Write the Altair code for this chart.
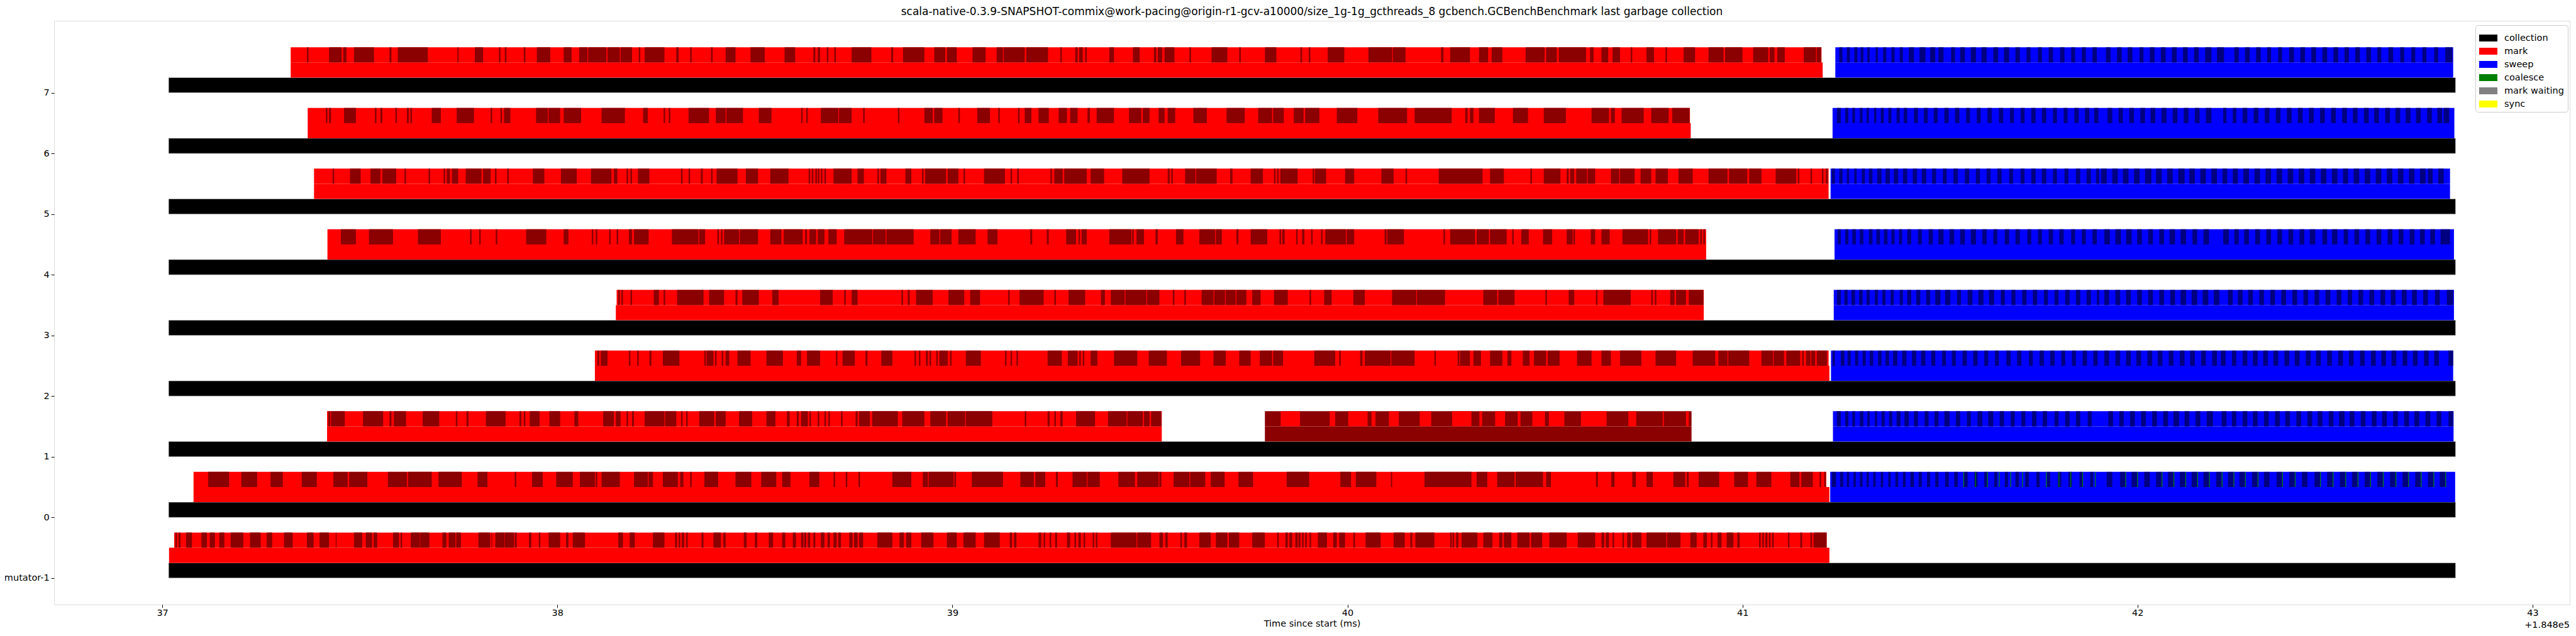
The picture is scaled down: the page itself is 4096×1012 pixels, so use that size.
import altair as alt
import pandas as pd

# ---------------- data (times in ms, offset +1.848e5) ----------------
ROWS = [-1, 0, 1, 2, 3, 4, 5, 6, 7]
ROW_LABELS = ["mutator-1", "0", "1", "2", "3", "4", "5", "6", "7"]

collection_start = [37.016, 37.016, 37.016, 37.016, 37.016, 37.016, 37.016, 37.016, 37.016]
collection_end = [42.805, 42.805, 42.805, 42.805, 42.805, 42.805, 42.805, 42.805, 42.805]

mark_start = [37.017, 37.079, 37.417, 38.095, 38.148, 37.418, 37.384, 37.368, 37.325]
mark_end = [41.220, 41.220, 39.530, 41.220, 40.902, 40.908, 41.218, 40.869, 41.203]
mark_top_start = [37.030, 37.079, 37.417, 38.095, 38.150, 37.418, 37.384, 37.368, 37.325]
mark_top_end = [41.213, 41.212, 39.530, 41.218, 40.902, 40.908, 41.218, 40.867, 41.200]

sweep_start = [None, 41.222, 41.229, 41.224, 41.231, 41.233, 41.223, 41.228, 41.235]
sweep_end = [None, 42.804, 42.800, 42.799, 42.801, 42.801, 42.791, 42.802, 42.799]

# row 1: second (dark red) mark span and the red batches inside it
row1_mark2 = [39.791, 40.871]
row1_mark2_light = [39.831, 39.880, 39.955, 39.969, 40.002, 40.051, 40.061, 40.071, 40.105, 40.130,
                    40.183, 40.212, 40.265, 40.314, 40.334, 40.341, 40.374, 40.399, 40.431, 40.438,
                    40.468, 40.500, 40.510, 40.549, 40.591, 40.656, 40.711, 40.731, 40.798, 40.801,
                    40.857, 40.864]

# dark mark batches (start, end, start, end, ...)
mark_dark_m1 = [37.033, 37.037, 37.041, 37.046, 37.060, 37.075, 37.099, 37.113, 37.120, 37.133,
                37.144, 37.157, 37.173, 37.205, 37.222, 37.249, 37.264, 37.278, 37.308, 37.330,
                37.366, 37.383, 37.398, 37.422, 37.439, 37.441, 37.485, 37.506, 37.515, 37.531,
                37.535, 37.544, 37.584, 37.599, 37.603, 37.607, 37.629, 37.652, 37.653, 37.676,
                37.709, 37.719, 37.725, 37.742, 37.744, 37.756, 37.800, 37.830, 37.833, 37.835,
                37.843, 37.866, 37.867, 37.890, 37.892, 37.897, 37.928, 37.934, 37.953, 37.957,
                37.978, 38.007, 38.022, 38.028, 38.039, 38.070, 38.154, 38.166, 38.183, 38.196,
                38.242, 38.271, 38.298, 38.303, 38.307, 38.311, 38.315, 38.321, 38.326, 38.330,
                38.365, 38.370, 38.395, 38.414, 38.420, 38.426, 38.472, 38.479, 38.500, 38.506,
                38.535, 38.546, 38.569, 38.577, 38.596, 38.604, 38.617, 38.623, 38.625, 38.630,
                38.634, 38.640, 38.648, 38.653, 38.667, 38.676, 38.684, 38.690, 38.699, 38.707,
                38.711, 38.718, 38.739, 38.747, 38.751, 38.760, 38.764, 38.774, 38.810, 38.848,
                38.866, 38.877, 38.883, 38.896, 38.921, 38.952, 38.986, 39.011, 39.028, 39.059,
                39.080, 39.120, 39.145, 39.151, 39.156, 39.162, 39.218, 39.225, 39.231, 39.235,
                39.246, 39.250, 39.260, 39.265, 39.290, 39.298, 39.309, 39.313, 39.319, 39.325,
                39.332, 39.336, 39.355, 39.359, 39.363, 39.367, 39.401, 39.466, 39.468, 39.503,
                39.524, 39.533, 39.539, 39.545, 39.577, 39.581, 39.587, 39.594, 39.625, 39.654,
                39.667, 39.696, 39.700, 39.726, 39.759, 39.791, 39.822, 39.826, 39.843, 39.849,
                39.853, 39.860, 39.868, 39.874, 39.876, 39.881, 39.885, 39.889, 39.893, 39.897,
                39.904, 39.908, 39.925, 39.948, 39.964, 39.973, 39.979, 39.994, 40.015, 40.019,
                40.046, 40.084, 40.117, 40.145, 40.159, 40.164, 40.172, 40.220, 40.260, 40.264,
                40.266, 40.270, 40.275, 40.281, 40.289, 40.329, 40.344, 40.367, 40.384, 40.392,
                40.396, 40.415, 40.430, 40.461, 40.465, 40.493, 40.511, 40.555, 40.583, 40.627,
                40.643, 40.650, 40.654, 40.662, 40.671, 40.675, 40.696, 40.700, 40.708, 40.717,
                40.721, 40.744, 40.757, 40.807, 40.809, 40.843, 40.868, 40.884, 40.901, 40.910,
                40.920, 40.924, 40.937, 40.947, 40.960, 40.977, 40.987, 40.993, 41.042, 41.046,
                41.050, 41.054, 41.058, 41.063, 41.067, 41.071, 41.075, 41.079, 41.115, 41.119,
                41.146, 41.151, 41.172, 41.176, 41.180, 41.213]

mark_dark_0 = [37.116, 37.169, 37.200, 37.240, 37.274, 37.305, 37.353, 37.391, 37.433, 37.469,
               37.473, 37.519, 37.571, 37.619, 37.622, 37.682, 37.699, 37.758, 37.798, 37.823,
               37.892, 37.896, 37.936, 37.963, 37.997, 38.039, 38.057, 38.095, 38.097, 38.101,
               38.112, 38.158, 38.194, 38.229, 38.231, 38.242, 38.267, 38.305, 38.311, 38.319,
               38.336, 38.340, 38.372, 38.407, 38.451, 38.491, 38.516, 38.554, 38.569, 38.590,
               38.638, 38.663, 38.699, 38.703, 38.730, 38.734, 38.762, 38.766, 38.848, 38.896,
               38.925, 38.938, 38.940, 39.003, 39.005, 39.009, 39.049, 39.128, 39.172, 39.206,
               39.210, 39.235, 39.262, 39.267, 39.304, 39.340, 39.342, 39.373, 39.420, 39.462,
               39.468, 39.522, 39.524, 39.529, 39.560, 39.600, 39.602, 39.640, 39.654, 39.689,
               39.724, 39.761, 39.846, 39.903, 39.982, 40.009, 40.021, 40.073, 40.110, 40.113,
               40.195, 40.314, 40.327, 40.354, 40.379, 40.423, 40.426, 40.495, 40.503, 40.515,
               40.629, 40.634, 40.668, 40.676, 40.721, 40.730, 40.757, 40.773, 40.825, 40.855,
               40.859, 40.864, 40.889, 40.941, 40.979, 41.014, 41.035, 41.073, 41.121, 41.144,
               41.149, 41.178, 41.195, 41.199, 41.207, 41.211]

mark_dark_1 = [37.420, 37.425, 37.427, 37.462, 37.508, 37.559, 37.575, 37.580, 37.586, 37.617,
               37.659, 37.701, 37.743, 37.747, 37.770, 37.775, 37.819, 37.869, 37.904, 37.909,
               37.915, 37.919, 37.930, 37.955, 37.980, 38.007, 38.043, 38.053, 38.116, 38.143,
               38.148, 38.160, 38.175, 38.179, 38.189, 38.194, 38.221, 38.271, 38.273, 38.301,
               38.313, 38.317, 38.326, 38.330, 38.359, 38.397, 38.401, 38.426, 38.460, 38.493,
               38.529, 38.552, 38.581, 38.588, 38.606, 38.611, 38.617, 38.634, 38.638, 38.642,
               38.659, 38.663, 38.676, 38.680, 38.686, 38.690, 38.718, 38.722, 38.755, 38.760,
               38.764, 38.791, 38.797, 38.862, 38.873, 38.929, 38.944, 38.984, 38.988, 39.032,
               39.034, 39.101, 39.183, 39.187, 39.241, 39.246, 39.258, 39.262, 39.273, 39.279,
               39.313, 39.361, 39.394, 39.441, 39.443, 39.482, 39.485, 39.499, 39.503, 39.529]

mark_dark_2 = [38.101, 38.106, 38.110, 38.127, 38.181, 38.185, 38.202, 38.206, 38.233, 38.238,
               38.267, 38.309, 38.372, 38.376, 38.378, 38.395, 38.399, 38.403, 38.416, 38.420,
               38.426, 38.435, 38.456, 38.489, 38.529, 38.571, 38.606, 38.617, 38.632, 38.665,
               38.705, 38.709, 38.722, 38.753, 38.780, 38.785, 38.820, 38.848, 38.904, 38.908,
               38.915, 38.919, 38.933, 38.938, 38.942, 38.946, 38.959, 38.963, 38.967, 38.988,
               38.994, 38.998, 39.034, 39.072, 39.133, 39.137, 39.147, 39.151, 39.162, 39.166,
               39.241, 39.277, 39.292, 39.317, 39.321, 39.325, 39.330, 39.334, 39.350, 39.367,
               39.409, 39.468, 39.497, 39.543, 39.579, 39.627, 39.661, 39.692, 39.726, 39.755,
               39.778, 39.809, 39.812, 39.837, 39.916, 39.969, 39.979, 39.983, 40.032, 40.038,
               40.044, 40.109, 40.111, 40.170, 40.220, 40.224, 40.279, 40.283, 40.285, 40.310,
               40.319, 40.338, 40.361, 40.392, 40.405, 40.415, 40.444, 40.461, 40.472, 40.503,
               40.507, 40.537, 40.581, 40.618, 40.643, 40.667, 40.690, 40.744, 40.780, 40.832,
               40.874, 40.931, 40.939, 40.962, 40.964, 41.017, 41.048, 41.077, 41.079, 41.105,
               41.111, 41.146, 41.151, 41.155, 41.161, 41.172, 41.174, 41.184, 41.188, 41.214]

mark_dark_3 = [38.154, 38.158, 38.162, 38.166, 38.185, 38.189, 38.244, 38.257, 38.269, 38.273,
               38.303, 38.370, 38.384, 38.422, 38.451, 38.456, 38.468, 38.510, 38.544, 38.560,
               38.665, 38.697, 38.726, 38.730, 38.745, 38.760, 38.871, 38.875, 38.887, 38.892,
               38.908, 38.950, 38.990, 39.030, 39.045, 39.070, 39.141, 39.145, 39.170, 39.231,
               39.258, 39.262, 39.294, 39.336, 39.376, 39.386, 39.401, 39.436, 39.438, 39.491,
               39.493, 39.524, 39.558, 39.562, 39.587, 39.591, 39.631, 39.661, 39.663, 39.690,
               39.692, 39.717, 39.719, 39.744, 39.759, 39.780, 39.814, 39.849, 39.904, 39.908,
               39.941, 39.960, 40.015, 40.044, 40.113, 40.174, 40.176, 40.247, 40.344, 40.379,
               40.382, 40.423, 40.501, 40.505, 40.560, 40.574, 40.629, 40.633, 40.648, 40.717,
               40.769, 40.773, 40.778, 40.782, 40.817, 40.828, 40.832, 40.857, 40.864, 40.901]

mark_dark_4 = [37.452, 37.490, 37.523, 37.584, 37.647, 37.705, 37.779, 37.783, 37.802, 37.806,
               37.844, 37.848, 37.921, 37.972, 38.016, 38.028, 38.087, 38.091, 38.097, 38.101,
               38.131, 38.135, 38.150, 38.154, 38.181, 38.189, 38.194, 38.231, 38.290, 38.357,
               38.359, 38.374, 38.405, 38.409, 38.414, 38.418, 38.422, 38.460, 38.462, 38.508,
               38.539, 38.567, 38.573, 38.621, 38.627, 38.632, 38.638, 38.655, 38.659, 38.676,
               38.686, 38.707, 38.726, 38.797, 38.799, 38.831, 38.833, 38.902, 38.944, 38.967,
               38.969, 38.998, 39.015, 39.059, 39.089, 39.114, 39.197, 39.202, 39.239, 39.244,
               39.288, 39.313, 39.319, 39.323, 39.327, 39.340, 39.397, 39.453, 39.455, 39.459,
               39.466, 39.485, 39.514, 39.520, 39.566, 39.585, 39.625, 39.665, 39.667, 39.682,
               39.719, 39.724, 39.755, 39.797, 39.828, 39.832, 39.835, 39.841, 39.870, 39.874,
               39.885, 39.891, 39.908, 39.912, 39.933, 39.937, 39.944, 39.996, 39.998, 40.017,
               40.094, 40.099, 40.101, 40.143, 40.243, 40.247, 40.260, 40.323, 40.327, 40.358,
               40.361, 40.403, 40.417, 40.421, 40.440, 40.459, 40.495, 40.518, 40.555, 40.570,
               40.572, 40.576, 40.616, 40.627, 40.643, 40.664, 40.696, 40.761, 40.765, 40.769,
               40.786, 40.832, 40.836, 40.851, 40.855, 40.889, 40.893, 40.897, 40.901, 40.905]

mark_dark_5 = [37.431, 37.435, 37.475, 37.502, 37.527, 37.552, 37.557, 37.592, 37.613, 37.617,
               37.674, 37.678, 37.712, 37.716, 37.720, 37.728, 37.733, 37.749, 37.768, 37.808,
               37.812, 37.831, 37.842, 37.846, 37.873, 37.877, 37.938, 37.967, 38.009, 38.049,
               38.085, 38.137, 38.143, 38.152, 38.175, 38.179, 38.185, 38.189, 38.204, 38.233,
               38.313, 38.317, 38.332, 38.336, 38.363, 38.368, 38.389, 38.393, 38.403, 38.456,
               38.477, 38.508, 38.539, 38.585, 38.636, 38.640, 38.644, 38.648, 38.653, 38.657,
               38.659, 38.663, 38.667, 38.671, 38.676, 38.680, 38.699, 38.745, 38.760, 38.776,
               38.810, 38.814, 38.818, 38.833, 38.881, 38.896, 38.923, 38.927, 38.931, 38.984,
               38.988, 39.015, 39.028, 39.032, 39.080, 39.133, 39.147, 39.151, 39.164, 39.168,
               39.248, 39.252, 39.258, 39.279, 39.283, 39.340, 39.350, 39.384, 39.430, 39.499,
               39.545, 39.550, 39.554, 39.558, 39.589, 39.615, 39.617, 39.669, 39.703, 39.709,
               39.755, 39.786, 39.814, 39.818, 39.822, 39.826, 39.830, 39.874, 39.912, 39.916,
               39.918, 39.946, 39.994, 40.017, 40.086, 40.117, 40.147, 40.151, 40.231, 40.342,
               40.361, 40.396, 40.463, 40.467, 40.497, 40.539, 40.555, 40.560, 40.564, 40.574,
               40.579, 40.606, 40.608, 40.627, 40.667, 40.688, 40.690, 40.727, 40.742, 40.769,
               40.780, 40.811, 40.838, 40.874, 40.914, 40.962, 40.966, 41.012, 41.017, 41.048,
               41.084, 41.136, 41.140, 41.144, 41.172, 41.176, 41.201, 41.205, 41.211, 41.216]

mark_dark_6 = [37.414, 37.418, 37.422, 37.427, 37.460, 37.490, 37.538, 37.542, 37.552, 37.557,
               37.590, 37.594, 37.619, 37.624, 37.628, 37.632, 37.682, 37.705, 37.745, 37.789,
               37.831, 37.835, 37.856, 37.860, 37.865, 37.881, 37.946, 37.976, 37.978, 38.007,
               38.016, 38.060, 38.112, 38.171, 38.217, 38.229, 38.269, 38.273, 38.282, 38.286,
               38.332, 38.384, 38.401, 38.426, 38.428, 38.470, 38.510, 38.542, 38.617, 38.621,
               38.630, 38.634, 38.667, 38.711, 38.713, 38.745, 38.774, 38.778, 38.862, 38.866,
               38.929, 38.950, 38.954, 38.975, 39.015, 39.019, 39.063, 39.095, 39.116, 39.120,
               39.166, 39.170, 39.183, 39.200, 39.218, 39.244, 39.269, 39.290, 39.298, 39.317,
               39.342, 39.348, 39.365, 39.409, 39.447, 39.478, 39.482, 39.499, 39.522, 39.537,
               39.545, 39.564, 39.610, 39.644, 39.694, 39.740, 39.774, 39.809, 39.812, 39.839,
               39.864, 39.889, 39.893, 39.929, 39.973, 40.025, 40.078, 40.151, 40.170, 40.264,
               40.298, 40.304, 40.310, 40.319, 40.333, 40.373, 40.419, 40.457, 40.497, 40.553,
               40.618, 40.662, 40.667, 40.677, 40.694, 40.750, 40.769, 40.813, 40.822, 40.866]

mark_dark_7 = [37.366, 37.370, 37.422, 37.454, 37.458, 37.466, 37.485, 37.536, 37.575, 37.580,
               37.596, 37.672, 37.747, 37.750, 37.791, 37.812, 37.852, 37.856, 37.867, 37.871,
               37.915, 37.919, 37.948, 37.982, 38.016, 38.036, 38.055, 38.076, 38.078, 38.124,
               38.127, 38.158, 38.160, 38.189, 38.206, 38.210, 38.221, 38.271, 38.301, 38.307,
               38.336, 38.340, 38.389, 38.393, 38.426, 38.451, 38.489, 38.525, 38.575, 38.602,
               38.648, 38.653, 38.659, 38.665, 38.682, 38.686, 38.701, 38.705, 38.745, 38.795,
               38.845, 38.850, 38.875, 38.929, 38.954, 38.982, 38.986, 39.011, 39.051, 39.084,
               39.112, 39.128, 39.130, 39.183, 39.187, 39.242, 39.273, 39.277, 39.311, 39.317,
               39.321, 39.330, 39.336, 39.340, 39.397, 39.409, 39.457, 39.474, 39.510, 39.516,
               39.520, 39.531, 39.537, 39.562, 39.600, 39.604, 39.656, 39.696, 39.726, 39.730,
               39.791, 39.820, 39.881, 39.885, 39.902, 39.906, 39.950, 39.992, 40.053, 40.113,
               40.115, 40.147, 40.237, 40.243, 40.260, 40.310, 40.333, 40.356, 40.365, 40.392,
               40.451, 40.499, 40.503, 40.530, 40.535, 40.604, 40.614, 40.623, 40.643, 40.660,
               40.671, 40.690, 40.717, 40.721, 40.757, 40.776, 40.805, 40.809, 40.851, 40.880,
               40.914, 40.952, 40.956, 41.000, 41.027, 41.065, 41.069, 41.081, 41.088, 41.107,
               41.155, 41.186, 41.188, 41.199]

# dark sweep batches (start, end, ...)
sweep_dark_0 = [41.226, 41.237, 41.247, 41.255, 41.264, 41.270, 41.281, 41.287, 41.297, 41.304,
                41.314, 41.320, 41.331, 41.337, 41.350, 41.356, 41.369, 41.375, 41.387, 41.394,
                41.406, 41.413, 41.425, 41.434, 41.446, 41.454, 41.467, 41.475, 41.488, 41.496,
                41.513, 41.522, 41.536, 41.545, 41.561, 41.570, 41.587, 41.595, 41.612, 41.620,
                41.637, 41.645, 41.664, 41.672, 41.691, 41.700, 41.716, 41.725, 41.744, 41.752,
                41.771, 41.779, 41.798, 41.807, 41.825, 41.834, 41.853, 41.861, 41.880, 41.888,
                41.922, 41.936, 41.956, 41.969, 41.985, 41.999, 42.017, 42.031, 42.047, 42.061,
                42.077, 42.091, 42.107, 42.121, 42.137, 42.151, 42.167, 42.181, 42.199, 42.213,
                42.229, 42.243, 42.258, 42.272, 42.290, 42.304, 42.320, 42.334, 42.352, 42.366,
                42.384, 42.398, 42.416, 42.430, 42.448, 42.462, 42.480, 42.494, 42.512, 42.526,
                42.543, 42.557, 42.575, 42.589, 42.607, 42.621, 42.639, 42.653, 42.671, 42.685,
                42.703, 42.717, 42.735, 42.749, 42.765, 42.779]

sweep_dark_1 = [41.239, 41.249, 41.260, 41.268, 41.278, 41.285, 41.297, 41.306, 41.316, 41.322,
                41.335, 41.341, 41.352, 41.360, 41.371, 41.379, 41.390, 41.400, 41.410, 41.421,
                41.434, 41.444, 41.461, 41.471, 41.486, 41.496, 41.511, 41.524, 41.540, 41.551,
                41.568, 41.578, 41.595, 41.607, 41.622, 41.635, 41.651, 41.662, 41.679, 41.689,
                41.706, 41.716, 41.733, 41.744, 41.760, 41.771, 41.790, 41.800, 41.817, 41.828,
                41.844, 41.855, 41.874, 41.884, 41.926, 41.938, 41.954, 41.965, 41.981, 41.993,
                42.009, 42.021, 42.037, 42.049, 42.065, 42.077, 42.091, 42.105, 42.119, 42.131,
                42.147, 42.159, 42.175, 42.191, 42.213, 42.225, 42.239, 42.250, 42.266, 42.278,
                42.292, 42.304, 42.320, 42.332, 42.348, 42.360, 42.374, 42.386, 42.402, 42.414,
                42.430, 42.442, 42.456, 42.468, 42.484, 42.496, 42.510, 42.524, 42.537, 42.549,
                42.565, 42.577, 42.593, 42.605, 42.619, 42.631, 42.647, 42.659, 42.675, 42.687,
                42.701, 42.713, 42.729, 42.741, 42.757, 42.769, 42.787, 42.799]

sweep_dark_2 = [41.228, 41.234, 41.249, 41.258, 41.266, 41.274, 41.285, 41.293, 41.304, 41.312,
                41.322, 41.331, 41.343, 41.352, 41.362, 41.371, 41.381, 41.392, 41.404, 41.415,
                41.429, 41.440, 41.452, 41.463, 41.478, 41.488, 41.505, 41.515, 41.530, 41.540,
                41.557, 41.568, 41.584, 41.595, 41.612, 41.622, 41.639, 41.649, 41.668, 41.679,
                41.695, 41.706, 41.725, 41.735, 41.752, 41.763, 41.779, 41.790, 41.807, 41.817,
                41.834, 41.844, 41.861, 41.872, 41.888, 41.899, 41.916, 41.928, 41.944, 41.956,
                41.971, 41.983, 41.997, 42.009, 42.025, 42.037, 42.051, 42.063, 42.079, 42.091,
                42.107, 42.119, 42.133, 42.145, 42.161, 42.173, 42.189, 42.201, 42.211, 42.223,
                42.239, 42.250, 42.266, 42.278, 42.292, 42.304, 42.318, 42.330, 42.344, 42.356,
                42.372, 42.384, 42.398, 42.410, 42.426, 42.438, 42.452, 42.464, 42.480, 42.492,
                42.508, 42.520, 42.535, 42.547, 42.563, 42.575, 42.591, 42.603, 42.617, 42.629,
                42.643, 42.655, 42.671, 42.683, 42.697, 42.709, 42.725, 42.737, 42.751, 42.763,
                42.787, 42.799]

sweep_dark_3 = [41.239, 41.249, 41.258, 41.266, 41.276, 41.285, 41.295, 41.304, 41.314, 41.322,
                41.335, 41.343, 41.354, 41.362, 41.375, 41.383, 41.398, 41.406, 41.417, 41.427,
                41.440, 41.450, 41.465, 41.475, 41.488, 41.501, 41.513, 41.526, 41.543, 41.553,
                41.570, 41.582, 41.597, 41.610, 41.624, 41.637, 41.654, 41.664, 41.681, 41.691,
                41.708, 41.719, 41.735, 41.746, 41.763, 41.773, 41.790, 41.800, 41.817, 41.828,
                41.844, 41.855, 41.871, 41.882, 41.897, 41.903, 41.916, 41.928, 41.944, 41.956,
                41.971, 41.983, 41.999, 42.011, 42.027, 42.039, 42.055, 42.067, 42.083, 42.095,
                42.109, 42.123, 42.137, 42.151, 42.165, 42.179, 42.193, 42.207, 42.229, 42.241,
                42.254, 42.266, 42.280, 42.292, 42.308, 42.320, 42.336, 42.348, 42.364, 42.376,
                42.392, 42.404, 42.420, 42.432, 42.448, 42.460, 42.476, 42.488, 42.504, 42.516,
                42.532, 42.543, 42.559, 42.571, 42.587, 42.599, 42.615, 42.627, 42.641, 42.653,
                42.669, 42.681, 42.695, 42.707, 42.723, 42.735, 42.753, 42.765, 42.783, 42.799]

sweep_dark_4 = [41.241, 41.249, 41.260, 41.268, 41.278, 41.287, 41.297, 41.306, 41.320, 41.329,
                41.339, 41.348, 41.358, 41.367, 41.377, 41.385, 41.396, 41.404, 41.417, 41.427,
                41.444, 41.454, 41.471, 41.482, 41.496, 41.509, 41.524, 41.536, 41.551, 41.563,
                41.578, 41.591, 41.607, 41.618, 41.635, 41.645, 41.664, 41.675, 41.691, 41.702,
                41.721, 41.731, 41.748, 41.758, 41.775, 41.786, 41.802, 41.813, 41.832, 41.842,
                41.859, 41.869, 41.886, 41.897, 41.916, 41.930, 41.944, 41.958, 41.971, 41.985,
                41.999, 42.011, 42.027, 42.039, 42.055, 42.067, 42.081, 42.095, 42.109, 42.123,
                42.139, 42.151, 42.167, 42.181, 42.217, 42.231, 42.245, 42.256, 42.270, 42.282,
                42.298, 42.310, 42.326, 42.338, 42.354, 42.366, 42.382, 42.394, 42.410, 42.422,
                42.436, 42.450, 42.468, 42.480, 42.492, 42.506, 42.522, 42.533, 42.549, 42.561,
                42.577, 42.589, 42.605, 42.617, 42.633, 42.645, 42.661, 42.673, 42.689, 42.701,
                42.715, 42.727, 42.741, 42.753, 42.767, 42.791]

sweep_dark_5 = [41.226, 41.234, 41.245, 41.253, 41.264, 41.270, 41.283, 41.289, 41.302, 41.310,
                41.320, 41.329, 41.341, 41.352, 41.362, 41.373, 41.383, 41.394, 41.406, 41.417,
                41.431, 41.442, 41.454, 41.465, 41.480, 41.490, 41.507, 41.517, 41.534, 41.545,
                41.563, 41.574, 41.591, 41.601, 41.618, 41.628, 41.645, 41.656, 41.675, 41.685,
                41.704, 41.714, 41.731, 41.742, 41.758, 41.769, 41.786, 41.796, 41.815, 41.825,
                41.844, 41.855, 41.871, 41.882, 41.895, 41.903, 41.908, 41.922, 41.936, 41.950,
                41.963, 41.977, 41.991, 42.005, 42.019, 42.035, 42.047, 42.061, 42.075, 42.089,
                42.103, 42.119, 42.131, 42.145, 42.159, 42.173, 42.187, 42.201, 42.215, 42.227,
                42.241, 42.254, 42.268, 42.282, 42.296, 42.310, 42.324, 42.338, 42.352, 42.366,
                42.380, 42.394, 42.408, 42.422, 42.436, 42.450, 42.464, 42.478, 42.492, 42.506,
                42.520, 42.533, 42.547, 42.561, 42.575, 42.589, 42.603, 42.617, 42.631, 42.645,
                42.659, 42.673, 42.687, 42.701, 42.715, 42.729, 42.735, 42.747, 42.761, 42.775]

sweep_dark_6 = [41.239, 41.249, 41.260, 41.268, 41.278, 41.285, 41.297, 41.304, 41.314, 41.320,
                41.333, 41.339, 41.350, 41.358, 41.369, 41.377, 41.390, 41.398, 41.408, 41.417,
                41.434, 41.444, 41.459, 41.469, 41.484, 41.494, 41.511, 41.522, 41.538, 41.549,
                41.566, 41.576, 41.593, 41.603, 41.620, 41.631, 41.649, 41.660, 41.677, 41.687,
                41.704, 41.714, 41.731, 41.742, 41.758, 41.769, 41.786, 41.796, 41.813, 41.823,
                41.840, 41.851, 41.867, 41.878, 41.890, 41.901, 41.924, 41.936, 41.952, 41.963,
                41.979, 41.991, 42.007, 42.019, 42.033, 42.045, 42.061, 42.073, 42.089, 42.101,
                42.117, 42.129, 42.145, 42.157, 42.173, 42.187, 42.217, 42.225, 42.241, 42.250,
                42.266, 42.278, 42.294, 42.306, 42.322, 42.334, 42.350, 42.362, 42.378, 42.390,
                42.406, 42.418, 42.434, 42.446, 42.462, 42.474, 42.490, 42.502, 42.518, 42.530,
                42.545, 42.557, 42.573, 42.585, 42.599, 42.611, 42.627, 42.639, 42.653, 42.665,
                42.679, 42.691, 42.705, 42.717, 42.733, 42.745, 42.759, 42.771, 42.775, 42.789]

sweep_dark_7 = [41.245, 41.253, 41.264, 41.272, 41.283, 41.291, 41.299, 41.306, 41.316, 41.322,
                41.337, 41.343, 41.356, 41.364, 41.377, 41.385, 41.398, 41.406, 41.421, 41.434,
                41.448, 41.463, 41.475, 41.488, 41.496, 41.509, 41.528, 41.538, 41.551, 41.563,
                41.578, 41.591, 41.605, 41.618, 41.635, 41.647, 41.662, 41.675, 41.691, 41.702,
                41.719, 41.729, 41.748, 41.758, 41.775, 41.786, 41.804, 41.815, 41.832, 41.842,
                41.859, 41.869, 41.886, 41.897, 41.920, 41.932, 41.948, 41.960, 41.975, 41.987,
                42.005, 42.015, 42.031, 42.043, 42.059, 42.071, 42.087, 42.099, 42.115, 42.127,
                42.143, 42.155, 42.171, 42.187, 42.201, 42.219, 42.245, 42.256, 42.272, 42.284,
                42.300, 42.312, 42.328, 42.338, 42.356, 42.366, 42.384, 42.396, 42.412, 42.424,
                42.440, 42.452, 42.468, 42.480, 42.496, 42.508, 42.524, 42.535, 42.551, 42.563,
                42.579, 42.591, 42.607, 42.617, 42.635, 42.647, 42.665, 42.675, 42.693, 42.703,
                42.721, 42.731, 42.751, 42.761, 42.779, 42.797]

# coalesce slivers seen in row 0 sweep lane
coalesce_0 = [41.559, 41.589, 41.619, 41.649, 41.678, 41.708, 41.768, 41.800, 41.830, 41.860,
              41.892, 41.969, 41.999, 42.061, 42.091, 42.121, 42.151, 42.181, 42.213, 42.243,
              42.272, 42.304, 42.366, 42.398, 42.462, 42.494, 42.526, 42.557, 42.589, 42.621,
              42.653, 42.685, 42.717, 42.749, 42.779]

LEGEND_NAMES = ["collection", "mark", "sweep", "coalesce", "mark waiting", "sync"]
LEGEND_COLORS = ["#000000", "#ff0000", "#0000ff", "#008000", "#808080", "#ffff00"]
DARK_MARK = "#8b0000"
DARK_SWEEP = "#000080"

mark_dark = [mark_dark_m1, mark_dark_0, mark_dark_1, mark_dark_2, mark_dark_3,
             mark_dark_4, mark_dark_5, mark_dark_6, mark_dark_7]
sweep_dark = [None, sweep_dark_0, sweep_dark_1, sweep_dark_2, sweep_dark_3,
              sweep_dark_4, sweep_dark_5, sweep_dark_6, sweep_dark_7]

# ---------------- build tables ----------------
def pairs(flat):
    return list(zip(flat[0::2], flat[1::2]))

LANE = 0.25
base_rows = []   # legend-coloured bars
over_rows = []   # fixed-colour overlays

for i, r in enumerate(ROWS):
    base_rows.append(dict(x=collection_start[i], x2=collection_end[i], y=r, y2=r + LANE,
                          cat="collection", sw=0.6))
    base_rows.append(dict(x=mark_start[i], x2=mark_end[i], y=r + LANE, y2=r + 2 * LANE,
                          cat="mark", sw=0.0))
    base_rows.append(dict(x=mark_top_start[i], x2=mark_top_end[i], y=r + 2 * LANE, y2=r + 3 * LANE,
                          cat="mark", sw=0.0))
    if sweep_start[i] is not None:
        base_rows.append(dict(x=sweep_start[i], x2=sweep_end[i], y=r + LANE, y2=r + 2 * LANE,
                              cat="sweep", sw=0.0))
        base_rows.append(dict(x=sweep_start[i], x2=sweep_end[i], y=r + 2 * LANE, y2=r + 3 * LANE,
                              cat="sweep", sw=0.0))
    for s, e in pairs(mark_dark[i]):
        over_rows.append(dict(x=s, x2=e, y=r + 2 * LANE, y2=r + 3 * LANE, col=DARK_MARK))
    if sweep_dark[i] is not None:
        for s, e in pairs(sweep_dark[i]):
            over_rows.append(dict(x=s, x2=e, y=r + 2 * LANE, y2=r + 3 * LANE, col=DARK_SWEEP))

# row 1 dark-red second mark span
over_rows.append(dict(x=row1_mark2[0], x2=row1_mark2[1], y=1 + LANE, y2=1 + 2 * LANE, col=DARK_MARK))
over_rows.append(dict(x=row1_mark2[0], x2=row1_mark2[1], y=1 + 2 * LANE, y2=1 + 3 * LANE, col=DARK_MARK))
for s, e in pairs(row1_mark2_light):
    over_rows.append(dict(x=s, x2=e, y=1 + 2 * LANE, y2=1 + 3 * LANE, col="#ff0000"))
for c in coalesce_0:
    over_rows.append(dict(x=c, x2=c + 0.002, y=0 + 2 * LANE, y2=0 + 3 * LANE, col="#008000"))

base_df = pd.DataFrame(base_rows)
over_df = pd.DataFrame(over_rows)

FONT = "DejaVu Sans"
PLOT_W, PLOT_H = 4000, 929

xscale = alt.Scale(domain=[36.726, 43.094], nice=False, zero=False)
yscale = alt.Scale(domain=[-1.4375, 8.1875], nice=False, zero=False)

x_axis = alt.Axis(values=[37, 38, 39, 40, 41, 42, 43], format="d", title="Time since start (ms)",
                  labelFontSize=14.5, titleFontSize=14.5, titleFontWeight="normal", labelFont=FONT,
                  titleFont=FONT, tickSize=4.7, tickColor="black", labelColor="black",
                  titleColor="black", domain=False, grid=False, labelPadding=2, titlePadding=3)
y_axis = alt.Axis(values=ROWS, title=None, labelFontSize=14.5, labelFont=FONT, tickSize=4.7,
                  tickColor="black", labelColor="black", domain=False, grid=False, labelPadding=3,
                  labelExpr="datum.value == -1 ? 'mutator-1' : format(datum.value, 'd')")

legend = alt.Legend(title=None, orient="none", legendX=3850, legendY=7,
                    symbolType="M-1,-0.38H1V0.38H-1Z", symbolSize=841, symbolStrokeWidth=0,
                    labelFontSize=14.5, labelFont=FONT, labelColor="black", labelOffset=11,
                    rowPadding=0, padding=6, strokeColor="#cccccc", fillColor="white",
                    cornerRadius=4)

base = alt.Chart(base_df).mark_rect(stroke="#cccccc").encode(
    x=alt.X("x:Q", scale=xscale, axis=x_axis),
    x2="x2:Q",
    y=alt.Y("y:Q", scale=yscale, axis=y_axis),
    y2="y2:Q",
    color=alt.Color("cat:N", scale=alt.Scale(domain=LEGEND_NAMES, range=LEGEND_COLORS), legend=legend),
    strokeWidth=alt.StrokeWidth("sw:Q", scale=None),
)

over = alt.Chart(over_df).mark_rect(strokeWidth=0).encode(
    x=alt.X("x:Q", scale=xscale),
    x2="x2:Q",
    y=alt.Y("y:Q", scale=yscale),
    y2="y2:Q",
    color=alt.Color("col:N", scale=None),
)

offset_txt = alt.Chart(pd.DataFrame({"t": ["+1.848e5"]})).mark_text(
    align="right", baseline="middle", fontSize=14.5, font=FONT, color="black"
).encode(text="t:N", x=alt.value(PLOT_W), y=alt.value(PLOT_H + 33))

chart = alt.layer(base, over, offset_txt).resolve_scale(color="independent").properties(
    width=PLOT_W, height=PLOT_H,
    padding={"left": 78, "top": 25, "right": 2, "bottom": 42},
    autosize=alt.AutoSizeParams(type="none"),
    title=alt.Title(
        "scala-native-0.3.9-SNAPSHOT-commix@work-pacing@origin-r1-gcv-a10000/size_1g-1g_gcthreads_8 gcbench.GCBenchBenchmark last garbage collection",
        fontSize=17, font=FONT, fontWeight="normal", anchor="middle", offset=5, color="black"),
).configure_view(stroke="black", strokeWidth=1.2).configure(background="white")

chart.save("out.html", embed_options={"renderer": "svg", "actions": False})
